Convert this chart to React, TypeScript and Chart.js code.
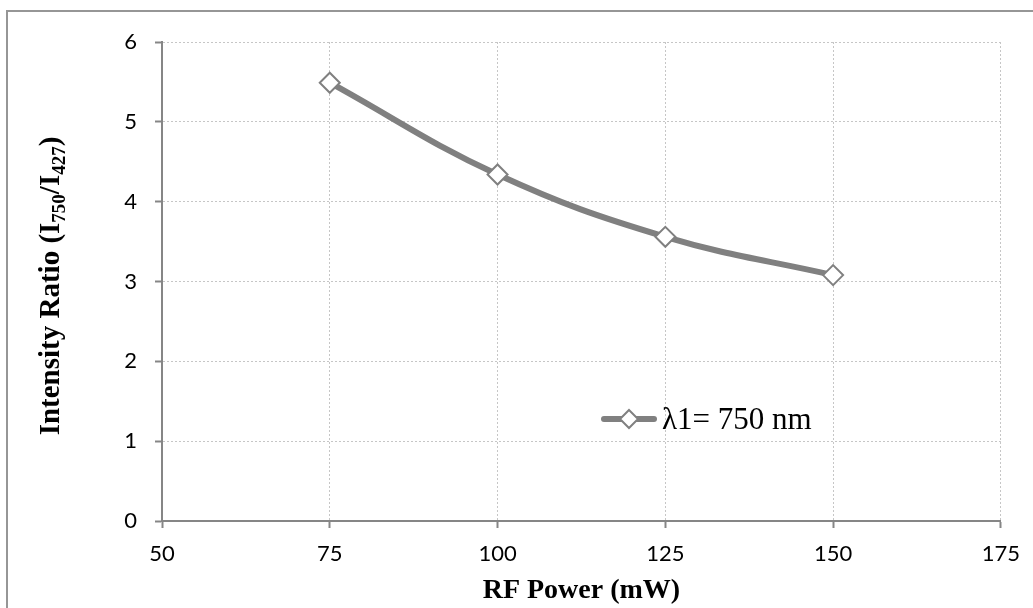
import React, { useEffect, useRef } from "react";
import { Chart, registerables } from "chart.js";

Chart.register(...registerables);

// ---- data ----
const rfPower = [75, 100, 125, 150];
const intensityRatio = [5.49, 4.34, 3.56, 3.08];
const seriesLabel = "λ1= 750 nm";
const xTitle = "RF Power (mW)";
const yTitleParts = ["Intensity Ratio (I", "750", "/I", "427", ")"];
const yTitleSubscript = [false, true, false, true, false];
const xTicks = [50, 75, 100, 125, 150, 175];
const yTicks = [0, 1, 2, 3, 4, 5, 6];

const LINE_COLOR = "#808080";
const AXIS_COLOR = "#868686";
const GRID_COLOR = "#c6c6c6";
const SERIF = "'Liberation Serif', 'Times New Roman', serif";
const SANS = "Lato, 'Noto Sans', sans-serif";

const yTitlePlugin = {
  id: "yTitleSub",
  afterDraw(chart: any) {
    const ctx = chart.ctx;
    const mainFont = `bold 29px ${SERIF}`;
    const subFont = `bold 19px ${SERIF}`;
    ctx.save();
    let total = 0;
    const widths: number[] = [];
    yTitleParts.forEach((p, i) => {
      ctx.font = yTitleSubscript[i] ? subFont : mainFont;
      const w = ctx.measureText(p).width;
      widths.push(w);
      total += w;
    });
    ctx.translate(59, 286);
    ctx.rotate(-Math.PI / 2);
    ctx.fillStyle = "#000";
    ctx.textBaseline = "alphabetic";
    ctx.textAlign = "left";
    let x = -total / 2;
    yTitleParts.forEach((p, i) => {
      ctx.font = yTitleSubscript[i] ? subFont : mainFont;
      ctx.fillText(p, x, yTitleSubscript[i] ? 6 : 0);
      x += widths[i];
    });
    ctx.restore();
  },
};

const legendPlugin = {
  id: "insideLegend",
  afterDraw(chart: any) {
    const ctx = chart.ctx;
    const ds = chart.data.datasets[0];
    const y = 419;
    ctx.save();
    ctx.strokeStyle = ds.borderColor;
    ctx.lineWidth = ds.borderWidth;
    ctx.lineCap = "round";
    ctx.beginPath();
    ctx.moveTo(604, y);
    ctx.lineTo(654, y);
    ctx.stroke();
    // diamond marker
    const r = 9;
    const cx = 629;
    ctx.beginPath();
    ctx.moveTo(cx, y - r);
    ctx.lineTo(cx + r, y);
    ctx.lineTo(cx, y + r);
    ctx.lineTo(cx - r, y);
    ctx.closePath();
    ctx.fillStyle = "#ffffff";
    ctx.fill();
    ctx.lineWidth = 2;
    ctx.lineCap = "butt";
    ctx.strokeStyle = ds.pointBorderColor;
    ctx.stroke();
    ctx.fillStyle = "#000";
    ctx.font = `31px ${SERIF}`;
    ctx.textBaseline = "middle";
    ctx.textAlign = "left";
    ctx.fillText(ds.label, 662, y + 2);
    ctx.restore();
  },
};

export default function App() {
  const ref = useRef<HTMLCanvasElement | null>(null);

  useEffect(() => {
    if (!ref.current) return;
    const chart = new Chart(ref.current, {
      type: "line",
      data: {
        datasets: [
          {
            label: seriesLabel,
            data: rfPower.map((x, i) => ({ x, y: intensityRatio[i] })),
            borderColor: LINE_COLOR,
            borderWidth: 6,
            tension: 0.4,
            pointStyle: "rectRot",
            pointRadius: 10,
            pointHoverRadius: 10,
            pointBackgroundColor: "#ffffff",
            pointBorderColor: LINE_COLOR,
            pointBorderWidth: 2,
          },
        ],
      },
      plugins: [yTitlePlugin, legendPlugin],
      options: {
        responsive: false,
        animation: false,
        events: [],
        layout: { padding: { top: 42, right: 28, bottom: 0, left: 0 } },
        plugins: {
          legend: { display: false },
          tooltip: { enabled: false },
          title: { display: false },
        },
        scales: {
          x: {
            type: "linear",
            min: xTicks[0],
            max: xTicks[xTicks.length - 1],
            afterBuildTicks: (s: any) => {
              s.ticks = xTicks.map((v) => ({ value: v }));
            },
            afterFit: (s: any) => {
              s.height = 87;
            },
            grid: {
              color: GRID_COLOR,
              lineWidth: 1,
              tickLength: 7,
              tickColor: AXIS_COLOR,
              tickWidth: 2,
              tickBorderDash: [],
            },
            border: { color: AXIS_COLOR, width: 2, dash: [2, 2] },
            ticks: {
              font: { family: SANS, size: 22 },
              color: "#000",
              padding: 13,
              maxRotation: 0,
            },
            title: {
              display: true,
              text: xTitle,
              font: { family: SERIF, size: 28, weight: "bold" },
              color: "#000",
              padding: { top: 0, bottom: 0 },
            },
          },
          y: {
            type: "linear",
            min: yTicks[0],
            max: yTicks[yTicks.length - 1],
            afterBuildTicks: (s: any) => {
              s.ticks = yTicks.map((v) => ({ value: v }));
            },
            afterFit: (s: any) => {
              s.width = 162;
            },
            grid: {
              color: GRID_COLOR,
              lineWidth: 1,
              tickLength: 7,
              tickColor: AXIS_COLOR,
              tickWidth: 2,
              tickBorderDash: [],
            },
            border: { color: AXIS_COLOR, width: 2, dash: [2, 2] },
            ticks: {
              font: { family: SANS, size: 22 },
              color: "#000",
              padding: 18,
            },
          },
        },
      },
    } as any);
    return () => chart.destroy();
  }, []);

  return (
    <div
      style={{
        position: "fixed",
        left: 0,
        top: 0,
        width: 1033,
        height: 608,
        overflow: "hidden",
        background: "#fff",
      }}
    >
      <div
        style={{
          position: "absolute",
          left: 6,
          top: 10,
          width: 1200,
          height: 800,
          border: "2px solid #969696",
        }}
      />
      <canvas
        ref={ref}
        width={1033}
        height={608}
        style={{ position: "absolute", left: 0, top: 0, width: 1033, height: 608 }}
      />
    </div>
  );
}
